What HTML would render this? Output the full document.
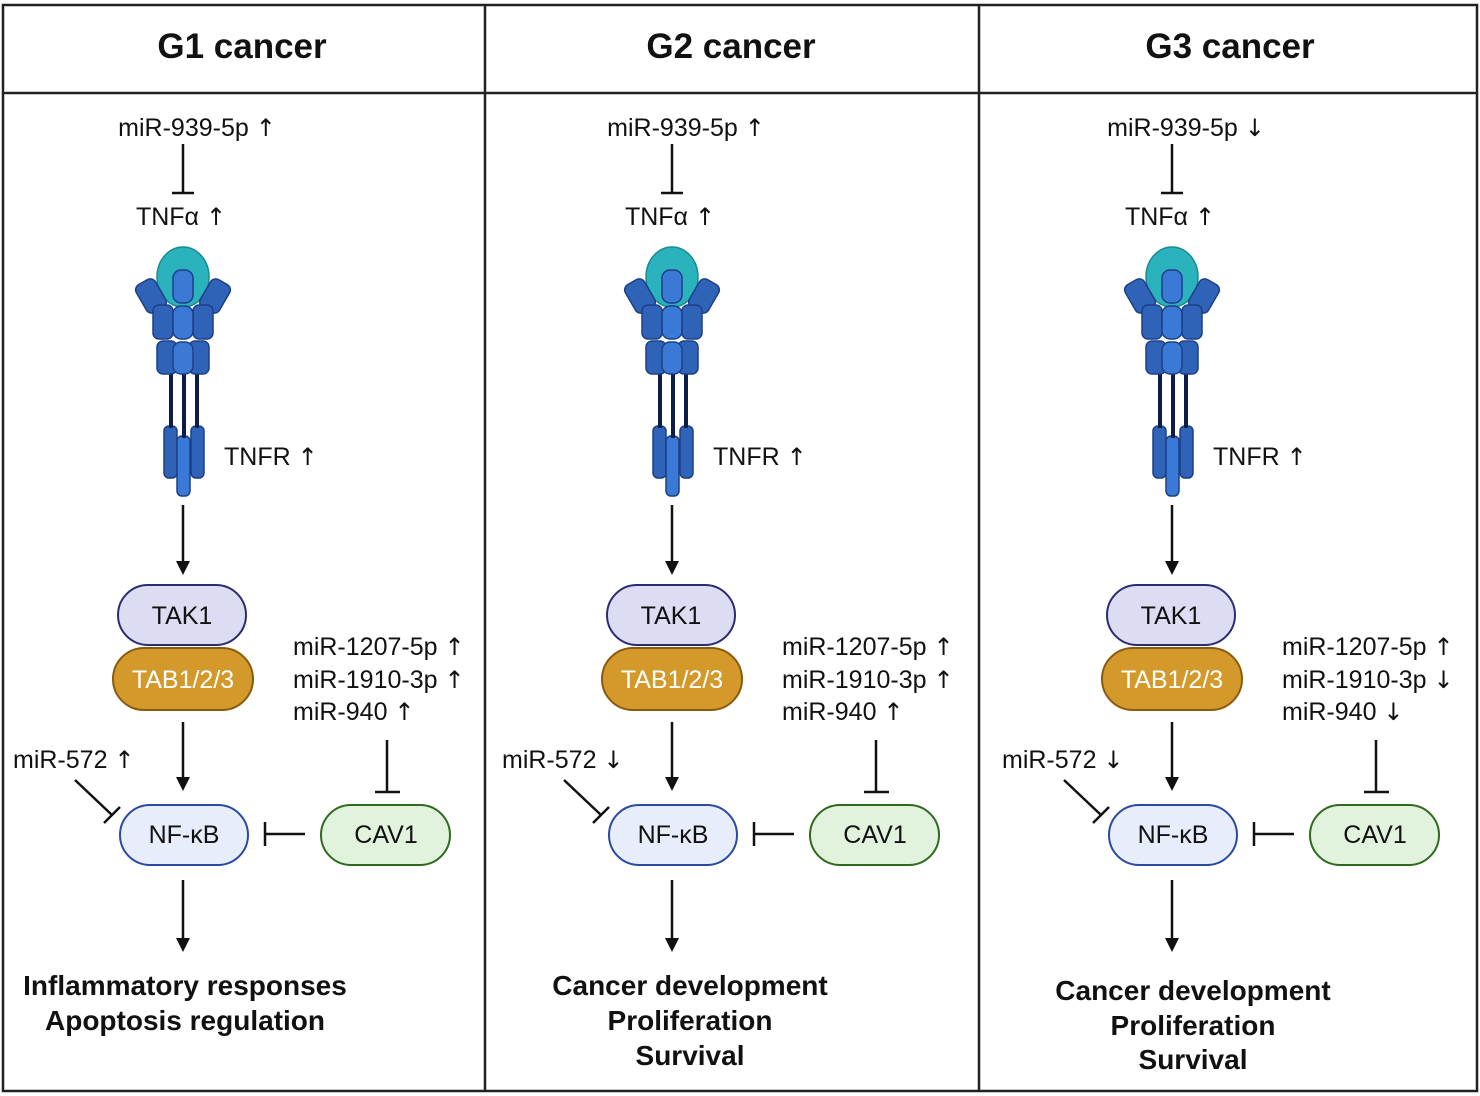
<!DOCTYPE html>
<html><head><meta charset="utf-8"><style>
html,body{margin:0;padding:0;background:#fff;}
svg{display:block;font-family:"Liberation Sans",sans-serif;}
.t{font-size:25px;fill:#111;}
.t tspan.r{font-family:"DejaVu Sans",sans-serif;font-size:24px;}
.b{font-size:28px;font-weight:bold;fill:#111;text-anchor:middle;}
.h{font-size:35px;font-weight:bold;fill:#111;text-anchor:middle;}
.l{stroke:#111;stroke-width:2.5;fill:none;}
.d{fill:#2f63b8;stroke:#1d3f86;stroke-width:1.5;}
.dc{fill:#3a7ad6;stroke:#1d3f86;stroke-width:1.5;}
</style></head><body>
<svg width="1480" height="1096" viewBox="0 0 1480 1096">
<defs>
<marker id="a" markerWidth="14" markerHeight="14" refX="7" refY="7" orient="auto" markerUnits="userSpaceOnUse" viewBox="0 0 14 14"><path d="M0,0L14,7L0,14z" fill="#111"/></marker>
<g id="rec">
<rect x="164" y="426" width="13" height="52" rx="5" class="d"/>
<rect x="191" y="426" width="13" height="52" rx="5" class="d"/>
<rect x="177" y="436" width="13" height="60" rx="5" class="dc"/>
<line x1="171" y1="370" x2="171" y2="428" stroke="#0e1c4a" stroke-width="4"/>
<line x1="184" y1="370" x2="184" y2="438" stroke="#0e1c4a" stroke-width="4"/>
<line x1="197" y1="370" x2="197" y2="428" stroke="#0e1c4a" stroke-width="4"/>
<ellipse cx="183" cy="277" rx="26" ry="30" fill="#2bb3bd" stroke="#1b8a94" stroke-width="1.5"/>
<rect x="140" y="280" width="22" height="32" rx="6" class="d" transform="rotate(-30 151 296)"/>
<rect x="204" y="280" width="22" height="32" rx="6" class="d" transform="rotate(30 215 296)"/>
<rect x="153" y="305" width="20" height="34" rx="6" class="d"/>
<rect x="193" y="305" width="20" height="34" rx="6" class="d"/>
<rect x="157" y="341" width="20" height="33" rx="6" class="d"/>
<rect x="189" y="341" width="20" height="33" rx="6" class="d"/>
<rect x="173" y="270" width="20" height="33" rx="8" class="dc"/>
<rect x="173" y="306" width="20" height="33" rx="8" class="dc"/>
<rect x="173" y="342" width="20" height="32" rx="8" class="dc"/>
</g>
<g id="shapes">
<line x1="183" y1="144" x2="183" y2="193" class="l"/><line x1="172" y1="193" x2="194" y2="193" class="l"/>
<line x1="183" y1="505" x2="183" y2="568" class="l" marker-end="url(#a)"/>
<rect x="118" y="585" width="128" height="60" rx="30" fill="#dcdcf3" stroke="#2c2c70" stroke-width="2"/>
<rect x="113" y="648" width="140" height="62" rx="31" fill="#d39a2b" stroke="#8a5a10" stroke-width="2"/>
<line x1="183" y1="722" x2="183" y2="784" class="l" marker-end="url(#a)"/>
<rect x="120" y="805" width="128" height="60" rx="30" fill="#e7edfb" stroke="#2a4aa2" stroke-width="2"/>
<rect x="321" y="805" width="129" height="60" rx="30" fill="#e1f3dd" stroke="#2e6a1e" stroke-width="2"/>
<line x1="305" y1="834" x2="265" y2="834" class="l"/><line x1="265" y1="822" x2="265" y2="846" class="l"/>
<line x1="387" y1="740" x2="387" y2="792" class="l"/><line x1="375" y1="792" x2="400" y2="792" class="l"/>
<line x1="75" y1="780" x2="112" y2="815" class="l"/><line x1="104" y1="823" x2="120" y2="807" class="l"/>
<line x1="183" y1="880" x2="183" y2="945" class="l" marker-end="url(#a)"/>
</g>
</defs>
<rect x="3" y="5" width="1474" height="1086" fill="none" stroke="#222" stroke-width="2.5"/>
<line x1="3" y1="93" x2="1477" y2="93" stroke="#222" stroke-width="2.5"/>
<line x1="485" y1="5" x2="485" y2="1091" stroke="#222" stroke-width="2.5"/>
<line x1="979" y1="5" x2="979" y2="1091" stroke="#222" stroke-width="2.5"/>
<text class="h" x="242" y="58">G1 cancer</text>
<text class="h" x="731" y="58">G2 cancer</text>
<text class="h" x="1230" y="58">G3 cancer</text>

<g>
<use href="#rec"/><use href="#shapes"/>
<text class="t" x="197" y="136" text-anchor="middle">miR-939-5p <tspan class="r">↑</tspan></text>
<text class="t" x="181" y="225" text-anchor="middle">TNFα <tspan class="r">↑</tspan></text>
<text class="t" x="224" y="465">TNFR <tspan class="r">↑</tspan></text>
<text class="t" x="182" y="624" text-anchor="middle">TAK1</text>
<text class="t" x="183" y="688" text-anchor="middle" style="fill:#fff">TAB1/2/3</text>
<text class="t" x="184" y="843" text-anchor="middle">NF-κB</text>
<text class="t" x="386" y="843" text-anchor="middle">CAV1</text>
<text class="t" x="293" y="655">miR-1207-5p <tspan class="r">↑</tspan></text>
<text class="t" x="293" y="688">miR-1910-3p <tspan class="r">↑</tspan></text>
<text class="t" x="293" y="720">miR-940 <tspan class="r">↑</tspan></text>
<text class="t" x="13" y="768">miR-572 <tspan class="r">↑</tspan></text>
<text class="b" x="185" y="995">Inflammatory responses</text>
<text class="b" x="185" y="1030">Apoptosis regulation</text>
</g>

<g transform="translate(489 0)">
<use href="#rec"/><use href="#shapes"/>
<text class="t" x="197" y="136" text-anchor="middle">miR-939-5p <tspan class="r">↑</tspan></text>
<text class="t" x="181" y="225" text-anchor="middle">TNFα <tspan class="r">↑</tspan></text>
<text class="t" x="224" y="465">TNFR <tspan class="r">↑</tspan></text>
<text class="t" x="182" y="624" text-anchor="middle">TAK1</text>
<text class="t" x="183" y="688" text-anchor="middle" style="fill:#fff">TAB1/2/3</text>
<text class="t" x="184" y="843" text-anchor="middle">NF-κB</text>
<text class="t" x="386" y="843" text-anchor="middle">CAV1</text>
<text class="t" x="293" y="655">miR-1207-5p <tspan class="r">↑</tspan></text>
<text class="t" x="293" y="688">miR-1910-3p <tspan class="r">↑</tspan></text>
<text class="t" x="293" y="720">miR-940 <tspan class="r">↑</tspan></text>
<text class="t" x="13" y="768">miR-572 <tspan class="r">↓</tspan></text>
<text class="b" x="201" y="995">Cancer development</text>
<text class="b" x="201" y="1030">Proliferation</text>
<text class="b" x="201" y="1065">Survival</text>
</g>

<g transform="translate(989 0)">
<use href="#rec"/><use href="#shapes"/>
<text class="t" x="197" y="136" text-anchor="middle">miR-939-5p <tspan class="r">↓</tspan></text>
<text class="t" x="181" y="225" text-anchor="middle">TNFα <tspan class="r">↑</tspan></text>
<text class="t" x="224" y="465">TNFR <tspan class="r">↑</tspan></text>
<text class="t" x="182" y="624" text-anchor="middle">TAK1</text>
<text class="t" x="183" y="688" text-anchor="middle" style="fill:#fff">TAB1/2/3</text>
<text class="t" x="184" y="843" text-anchor="middle">NF-κB</text>
<text class="t" x="386" y="843" text-anchor="middle">CAV1</text>
<text class="t" x="293" y="655">miR-1207-5p <tspan class="r">↑</tspan></text>
<text class="t" x="293" y="688">miR-1910-3p <tspan class="r">↓</tspan></text>
<text class="t" x="293" y="720">miR-940 <tspan class="r">↓</tspan></text>
<text class="t" x="13" y="768">miR-572 <tspan class="r">↓</tspan></text>
<text class="b" x="204" y="1000">Cancer development</text>
<text class="b" x="204" y="1035">Proliferation</text>
<text class="b" x="204" y="1069">Survival</text>
</g>
</svg>
</body></html>
